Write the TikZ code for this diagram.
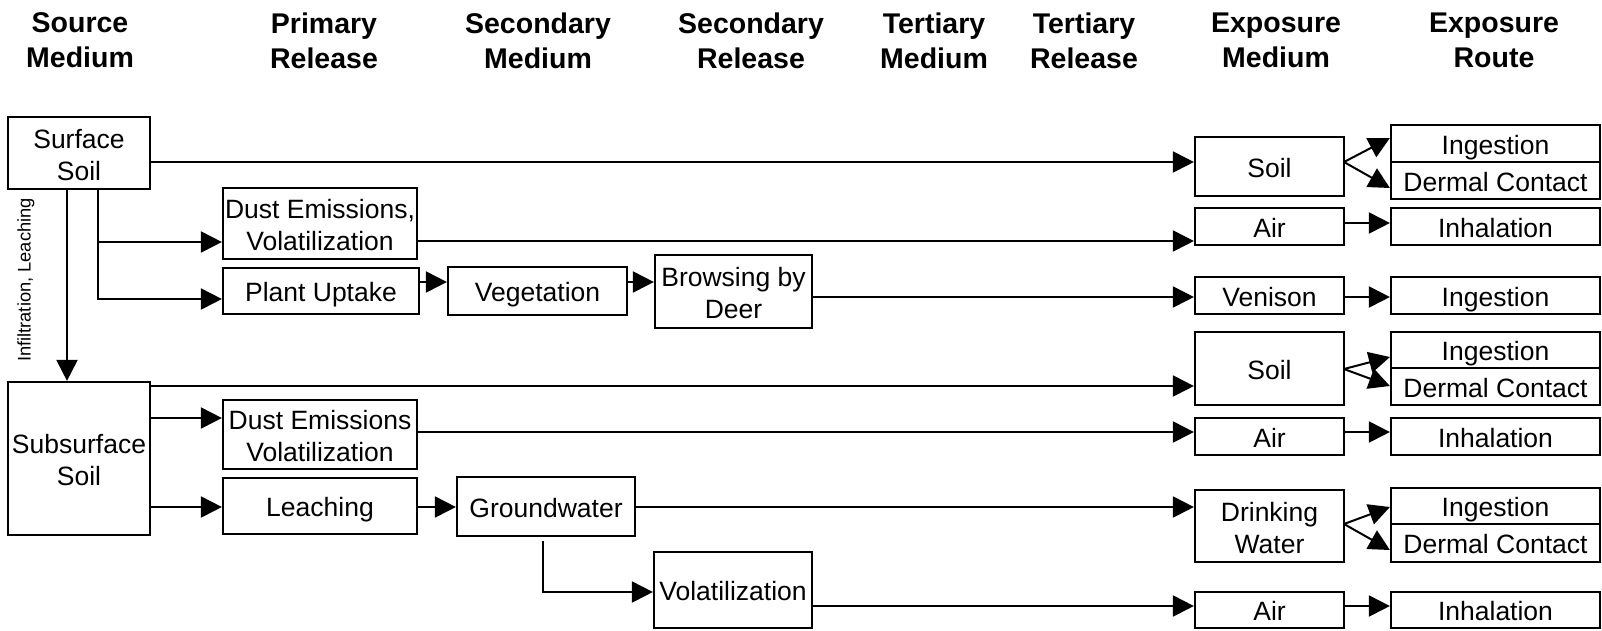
\documentclass[tikz,border=0pt]{standalone}
\usepackage{fontspec}
\setmainfont{Liberation Sans}
\usetikzlibrary{arrows.meta}
\newcommand{\bodyfont}{\fontsize{26.5}{32}\selectfont}
\newcommand{\hdrfont}{\fontsize{28.5}{35}\selectfont\bfseries}
\newcommand{\labfont}{\fontsize{18.3}{20}\selectfont}
\tikzset{
  box/.style={draw, line width=2.2pt, inner sep=0pt, align=center, font=\bodyfont, text height=21.5pt, text depth=0pt},
  two/.style={text height=54pt, text depth=0pt},
  hdr/.style={align=center, inner sep=0pt, font=\hdrfont},
  conn/.style={line width=2pt},
  arr/.style={line width=2pt, -{Triangle[length=21pt,width=21pt]}},
}
\begin{document}
\begin{tikzpicture}[x=1pt,y=-1pt]
\useasboundingbox (0,0) rectangle (1602,630);
% headers
\node[hdr] (h1) at (80,40.5) {Source\\Medium};
\node[hdr] (h2) at (324,40.5) {Primary\\Release};
\node[hdr] (h3) at (538,40.5) {Secondary\\Medium};
\node[hdr] (h4) at (751,40.5) {Secondary\\Release};
\node[hdr] (h5) at (934,40.5) {Tertiary\\Medium};
\node[hdr] (h6) at (1084,40.5) {Tertiary\\Release};
\node[hdr] (h7) at (1276,40.5) {Exposure\\Medium};
\node[hdr] (h8) at (1494,40.5) {Exposure\\Route};
% left boxes
\node[box, two, minimum width=142pt, minimum height=72pt] (ss) at (79,153) {Surface\\Soil};
\node[box, two, minimum width=194pt, minimum height=71pt] (de1) at (320,223.5) {Dust Emissions,\\Volatilization};
\node[box, minimum width=196pt, minimum height=46pt] (pu) at (321,291) {Plant Uptake};
\node[box, minimum width=179pt, minimum height=48pt] (veg) at (537.5,291) {Vegetation};
\node[box, two, minimum width=157pt, minimum height=73pt] (brw) at (733.5,291.5) {Browsing by\\Deer};
\node[box, two, minimum width=142pt, minimum height=153pt] (sub) at (79,458.5) {Subsurface\\Soil};
\node[box, two, minimum width=194pt, minimum height=69pt] (de2) at (320,434.5) {Dust Emissions\\Volatilization};
\node[box, minimum width=194pt, minimum height=56pt] (lea) at (320,506) {Leaching};
\node[box, minimum width=178pt, minimum height=59pt] (gw) at (546,506.5) {Groundwater};
\node[box, minimum width=158pt, minimum height=76pt] (vol) at (733,590) {Volatilization};
% exposure media
\node[box, minimum width=149pt, minimum height=59pt] (soil1) at (1269.5,166.5) {Soil};
\node[box, minimum width=149pt, minimum height=37pt] (air1) at (1269.5,226.5) {Air};
\node[box, minimum width=149pt, minimum height=37pt] (ven) at (1269.5,295.5) {Venison};
\node[box, minimum width=149pt, minimum height=73pt] (soil2) at (1269.5,368.5) {Soil};
\node[box, minimum width=149pt, minimum height=37pt] (air2) at (1269.5,436.5) {Air};
\node[box, two, minimum width=149pt, minimum height=72pt] (dw) at (1269.5,526) {Drinking\\Water};
\node[box, minimum width=149pt, minimum height=36pt] (air3) at (1269.5,610) {Air};
% exposure routes
\node[box, minimum width=209pt, minimum height=37pt] (ing1) at (1495.5,143.5) {Ingestion};
\node[box, minimum width=209pt, minimum height=37pt] (derm1) at (1495.5,180.5) {Dermal Contact};
\node[box, minimum width=209pt, minimum height=37pt] (inh1) at (1495.5,226.5) {Inhalation};
\node[box, minimum width=209pt, minimum height=37pt] (ing2) at (1495.5,295.5) {Ingestion};
\node[box, minimum width=209pt, minimum height=36pt] (ing3) at (1495.5,350) {Ingestion};
\node[box, minimum width=209pt, minimum height=37pt] (derm3) at (1495.5,386.5) {Dermal Contact};
\node[box, minimum width=209pt, minimum height=37pt] (inh2) at (1495.5,436.5) {Inhalation};
\node[box, minimum width=209pt, minimum height=36pt] (ing4) at (1495.5,506) {Ingestion};
\node[box, minimum width=209pt, minimum height=38pt] (derm4) at (1495.5,543) {Dermal Contact};
\node[box, minimum width=209pt, minimum height=36pt] (inh3) at (1495.5,610) {Inhalation};
% label
\node[rotate=90, font=\labfont, inner sep=0pt] (lbl) at (26,280) {Infiltration, Leaching};
% connectors
\coordinate (j1) at (98,242);
\coordinate (fk1) at (1344,162);
\coordinate (fk2) at (1344,369);
\coordinate (fk3) at (1344,524);
\draw[arr] (ss.east |- 0,162) -- (soil1.west |- 0,162);
\draw[arr] (ss.south -| 67,0) -- (sub.north -| 67,0);
\draw[arr] (ss.south -| 98,0) |- (pu.west |- 0,299);
\draw[arr] (j1) -- (de1.west |- j1);
\draw[arr] (de1.east |- 0,241) -- (air1.west |- 0,241);
\draw[arr] (pu.east |- 0,282) -- (veg.west |- 0,282);
\draw[arr] (veg.east |- 0,282) -- (brw.west |- 0,282);
\draw[arr] (brw.east |- 0,297) -- (ven.west |- 0,297);
\draw[arr] (sub.east |- 0,386) -- (soil2.west |- 0,386);
\draw[arr] (sub.east |- 0,418) -- (de2.west |- 0,418);
\draw[arr] (de2.east |- 0,432) -- (air2.west |- 0,432);
\draw[arr] (sub.east |- 0,507) -- (lea.west |- 0,507);
\draw[arr] (lea.east |- 0,507) -- (gw.west |- 0,507);
\draw[arr] (gw.east |- 0,507) -- (dw.west |- 0,507);
\draw[arr] (gw.south -| 543,0) ++(0,4) |- (vol.west |- 0,592);
\draw[arr] (vol.east |- 0,606) -- (air3.west |- 0,606);
% exposure routes
\draw[arr] (fk1) -- (ing1.west |- 0,138);
\draw[arr] (fk1) -- (derm1.west |- 0,188);
\draw[arr] (air1.east |- 0,223) -- (inh1.west |- 0,223);
\draw[arr] (ven.east |- 0,297) -- (ing2.west |- 0,297);
\draw[arr] (fk2) -- (ing3.west |- 0,357);
\draw[arr] (fk2) -- (derm3.west |- 0,386);
\draw[arr] (air2.east |- 0,432) -- (inh2.west |- 0,432);
\draw[arr] (fk3) -- (ing4.west |- 0,507);
\draw[arr] (fk3) -- (derm4.west |- 0,550);
\draw[arr] (air3.east |- 0,606) -- (inh3.west |- 0,606);
\end{tikzpicture}
\end{document}
